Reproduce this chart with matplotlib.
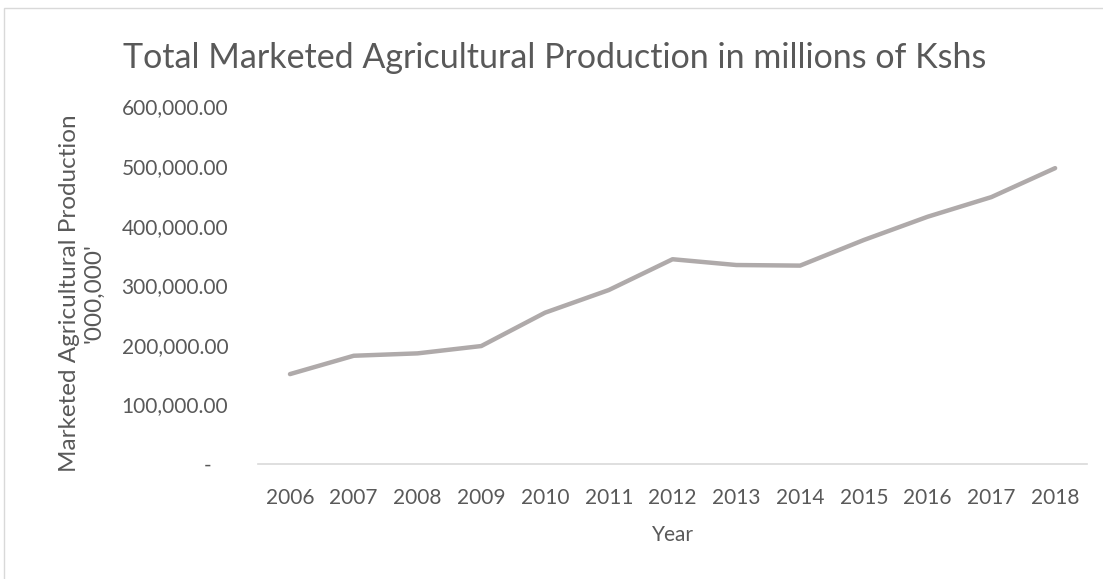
import matplotlib
matplotlib.use('Agg')
import matplotlib.pyplot as plt
from matplotlib.patches import Rectangle

years = ['2006', '2007', '2008', '2009', '2010', '2011', '2012',
         '2013', '2014', '2015', '2016', '2017', '2018']
production = [150900, 181700, 185700, 198000, 254000, 292000, 343700,
              334000, 333000, 376000, 415000, 448000, 496600]
yticks = [0, 100000, 200000, 300000, 400000, 500000, 600000]
ytick_labels = ['-   ', '100,000.00', '200,000.00', '300,000.00',
                '400,000.00', '500,000.00', '600,000.00']

plt.rcParams['font.family'] = ['Lato', 'DejaVu Sans']
text_color = '#595959'

fig = plt.figure(figsize=(11.03, 5.79), dpi=100)
ax = fig.add_axes([0.234, 0.1986, 0.7515, 0.6174])

x = range(len(years))
ax.plot(x, production, color='#AFAAAA', linewidth=3.2, solid_capstyle='round')

ax.set_xlim(-0.5, len(years) - 0.5)
ax.set_ylim(0, 600000)
ax.set_xticks(list(x))
ax.set_xticklabels(years)
ax.set_yticks(yticks)
ax.set_yticklabels(ytick_labels)
ax.tick_params(axis='both', length=0, labelsize=15, colors=text_color)
ax.tick_params(axis='x', pad=17)
ax.tick_params(axis='y', pad=21.5)

for side in ['top', 'right', 'left']:
    ax.spines[side].set_visible(False)
ax.spines['bottom'].set_color('#D9D9D9')
ax.spines['bottom'].set_linewidth(1.2)

ax.set_xlabel('Year', fontsize=15, color=text_color)
ax.xaxis.set_label_coords(0.5, -0.172)
ax.set_ylabel("Marketed Agricultural Production\n'000,000'", fontsize=17.5,
              color=text_color, linespacing=1.2)
ax.yaxis.set_label_coords(-0.186, 0.478)
fig.text(0.503, 0.90, 'Total Marketed Agricultural Production in millions of Kshs',
         ha='center', va='center', fontsize=24.5, color=text_color)

# chart border
fig.patches.append(Rectangle((0.004, -0.01), 1.2, 0.996, transform=fig.transFigure,
                             fill=False, edgecolor='#D9D9D9', linewidth=1))

fig.savefig('out.png', dpi=100)
